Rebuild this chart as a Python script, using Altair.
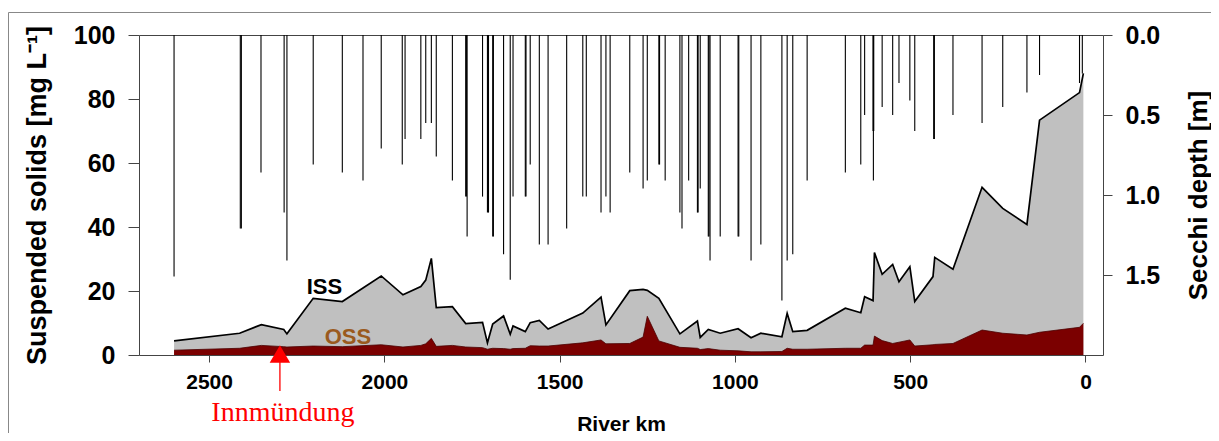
import altair as alt
import pandas as pd

# ---- Suspended solids along the river (top of grey = total, dark red = OSS)
ss_km = [2600, 2413, 2351, 2287, 2278, 2203, 2120, 2009, 1947, 1896, 1882, 1866,
         1852, 1806, 1768, 1720, 1706, 1691, 1660, 1641, 1633, 1598, 1584, 1558,
         1533, 1434, 1382, 1368, 1300, 1262, 1250, 1217, 1157, 1107, 1099, 1076,
         1042, 991, 954, 926, 866, 851, 835, 794, 685, 641, 630, 606, 602, 580,
         550, 532, 501, 487, 435, 430, 378, 295, 236, 167, 131, 17, 6]
ss_total = [4.4, 6.8, 9.5, 8.0, 6.6, 17.7, 16.7, 24.7, 18.8, 21.4, 23.4, 30.2,
            14.8, 15.1, 9.8, 10.2, 3.8, 9.7, 12.2, 6.5, 9.1, 7.3, 10.1, 10.8,
            8.1, 13.1, 18.1, 9.4, 20.1, 20.5, 20.2, 17.7, 6.6, 10.6, 5.5, 8.0,
            6.8, 8.2, 5.4, 6.8, 5.7, 13.0, 7.3, 7.7, 14.6, 13.2, 18.2, 17.0, 32.0, 25.2,
            28.3, 22.9, 27.6, 16.7, 24.5, 30.5, 26.8, 52.4, 45.8, 40.8, 73.4, 82.0, 88.0]
oss = [1.5, 2.1, 3.0, 2.6, 2.5, 2.8, 2.6, 3.2, 2.5, 3.0, 3.5, 5.2,
       2.7, 3.0, 2.5, 2.3, 1.8, 2.1, 2.0, 1.8, 2.0, 2.1, 2.9, 2.8,
       2.8, 3.8, 4.7, 3.5, 3.6, 5.6, 12.1, 4.4, 2.4, 2.1, 1.7, 2.0,
       1.5, 1.3, 1.0, 1.0, 1.1, 2.1, 1.8, 1.8, 2.1, 2.1, 3.1, 3.1, 5.9, 4.5,
       3.6, 4.0, 4.7, 2.8, 3.2, 3.3, 3.6, 7.8, 6.8, 6.25, 7.1, 8.65, 9.9]

# ---- Secchi depth measurements
secchi_km = [2600, 2411, 2408, 2352, 2286, 2278, 2203, 2120, 2061, 2009, 1949, 1941,
             1896, 1882, 1866, 1852, 1806, 1768, 1766, 1764, 1720, 1706, 1703, 1691,
             1689, 1660, 1641, 1633, 1598, 1596, 1584, 1558, 1533, 1480, 1434, 1424,
             1382, 1368, 1356, 1300, 1262, 1250, 1217, 1215, 1199, 1157, 1151, 1132,
             1107, 1105, 1099, 1076, 1074, 1071, 1042, 991, 989, 954, 926, 866, 851,
             835, 794, 685, 641, 630, 606, 604, 605, 580, 550, 532, 501, 487, 433, 431,
             378, 295, 236, 167, 131, 17, 9]
secchi_depth = [1.51, 1.21, 1.21, 0.86, 1.11, 1.41, 0.81, 0.86, 0.91, 0.71, 0.81, 0.65,
                0.65, 0.55, 0.55, 0.76, 0.91, 1.01, 1.01, 1.26, 1.01, 1.11, 1.11, 1.26,
                1.26, 1.37, 1.53, 1.01, 1.01, 1.01, 0.81, 1.31, 1.31, 1.21, 1.01, 1.01,
                1.11, 1.01, 1.11, 0.86, 0.96, 0.91, 0.81, 0.81, 0.91, 1.11, 1.21, 0.91,
                1.11, 1.11, 0.96, 1.26, 1.26, 1.41, 1.26, 1.26, 1.26, 1.41, 1.31, 1.66, 1.41,
                1.37, 0.91, 0.86, 0.81, 0.50, 0.60, 0.60, 0.91, 0.45, 0.50, 0.30, 0.41, 0.60, 0.65, 0.65,
                0.50, 0.55, 0.45, 0.36, 0.25, 0.30, 0.24]

# ---- labels
series_labels = ["ISS", "OSS"]
series_label_km = [2171, 2104]
series_label_ss = [21.3, 5.6]
annot_text = ["Innmündung"]
annot_km = [2298]

x_ticks = [2500, 2000, 1500, 1000, 500, 0]
y_ticks = [0, 20, 40, 60, 80, 100]
secchi_ticks = [0.0, 0.5, 1.0, 1.5]

ss_df = pd.DataFrame({"km": ss_km, "total": ss_total, "oss": oss})
sec_df = pd.DataFrame({"km": secchi_km, "depth": secchi_depth})
lab_df = pd.DataFrame({"km": series_label_km, "ss": series_label_ss, "label": series_labels})
ann_df = pd.DataFrame({"km": annot_km, "label": annot_text})

FONT = "Liberation Sans"
AX = "#444444"

x_scale = alt.Scale(domain=[-50, 2700], reverse=True, nice=False, zero=False)
x_axis = alt.Axis(values=x_ticks, format="d", title="River km", grid=False, domain=False,
                  tickSize=7, tickColor=AX, labelPadding=9, labelFont=FONT, labelFontSize=21,
                  labelFontWeight="bold", labelColor="black", titleFont=FONT, titleFontSize=21,
                  titleFontWeight="bold", titleColor="black", titleX=482, titleY=75,
                  titleBaseline="alphabetic")
x_enc = alt.X("km:Q", scale=x_scale, axis=x_axis)
y_scale = alt.Scale(domain=[0, 100], nice=False, zero=True)
y_axis = alt.Axis(values=y_ticks, title="Suspended solids [mg L⁻¹]", grid=False, domain=False,
                  tickSize=11, tickColor=AX, labelPadding=13, labelFont=FONT, labelFontSize=25,
                  labelFontWeight="bold", labelColor="black", titleFont=FONT, titleFontSize=27,
                  titleFontWeight="bold", titleColor="black", titleAngle=270, titleX=-94,
                  titleY=160, titleAlign="center", titleBaseline="alphabetic")

base = alt.Chart(ss_df)
total_area = base.mark_area(color="#C0C0C0", opacity=1).encode(
    x=x_enc, y=alt.Y("total:Q", scale=y_scale, axis=y_axis))
total_line = base.mark_line(color="black", strokeWidth=1.7).encode(
    x=alt.X("km:Q", scale=x_scale), y=alt.Y("total:Q", scale=y_scale))
oss_area = base.mark_area(color="#7B0000", opacity=1).encode(
    x=alt.X("km:Q", scale=x_scale), y=alt.Y("oss:Q", scale=y_scale))
oss_line = base.mark_line(color="#4a0000", strokeWidth=0.8).encode(
    x=alt.X("km:Q", scale=x_scale), y=alt.Y("oss:Q", scale=y_scale))

iss_text = alt.Chart(lab_df[lab_df.label == "ISS"]).mark_text(
    font=FONT, fontSize=22, fontWeight="bold", color="black").encode(
    x=alt.X("km:Q", scale=x_scale), y=alt.Y("ss:Q", scale=y_scale), text="label:N")
oss_text = alt.Chart(lab_df[lab_df.label == "OSS"]).mark_text(
    font=FONT, fontSize=22, fontWeight="bold", color="#9A5A1E").encode(
    x=alt.X("km:Q", scale=x_scale), y=alt.Y("ss:Q", scale=y_scale), text="label:N")

arrow_line = alt.Chart(ann_df).mark_rule(color="red", strokeWidth=1.3).encode(
    x=alt.X("km:Q", scale=x_scale), y=alt.value(322), y2=alt.value(356))
arrow_head = alt.Chart(ann_df).mark_point(shape="triangle-up", filled=True, color="red",
                                          opacity=1, size=420).encode(
    x=alt.X("km:Q", scale=x_scale), y=alt.value(319))
arrow_text = alt.Chart(ann_df).mark_text(font="Liberation Serif", fontSize=28, color="red",
                                         baseline="alphabetic", dx=3).encode(
    x=alt.X("km:Q", scale=x_scale), y=alt.value(386), text="label:N")

frame_one = pd.DataFrame({"f": [0]})
frame_top = alt.Chart(frame_one).mark_rule(color="#888888", strokeWidth=1).encode(
    x=alt.value(-130.5), x2=alt.value(1100), y=alt.value(-22.5))
frame_left = alt.Chart(frame_one).mark_rule(color="#888888", strokeWidth=1).encode(
    x=alt.value(-130.5), y=alt.value(-22.5), y2=alt.value(500))

left = alt.layer(total_area, total_line, oss_area, oss_line, iss_text, oss_text,
                 arrow_line, arrow_head, arrow_text, frame_top, frame_left)

sec_axis = alt.Axis(values=secchi_ticks, format=".1f", orient="right", title="Secchi depth [m]",
                    grid=False, domain=False, tickSize=9, tickColor=AX, labelPadding=13,
                    labelFont=FONT, labelFontSize=25, labelFontWeight="bold", labelColor="black",
                    titleFont=FONT, titleFontSize=26, titleFontWeight="bold", titleColor="black",
                    titleAngle=270, titleX=103, titleY=160, titleAlign="center",
                    titleBaseline="alphabetic")
secchi = alt.Chart(sec_df).transform_calculate(top="0").mark_rule(
    color="black", strokeWidth=1.1).encode(
    x=alt.X("km:Q", scale=x_scale),
    y=alt.Y("top:Q", scale=alt.Scale(domain=[0, 2], reverse=True, nice=False), axis=sec_axis),
    y2="depth:Q")

chart = alt.layer(left, secchi).resolve_scale(y="independent").properties(
    width=964, height=320,
    padding={"left": 131, "top": 27, "right": 108, "bottom": 78},
    autosize=alt.AutoSizeParams(type="none"),
    background="white",
).configure_view(stroke=AX, strokeWidth=1)

chart.save("out.html", embed_options={"renderer": "svg", "actions": False})
